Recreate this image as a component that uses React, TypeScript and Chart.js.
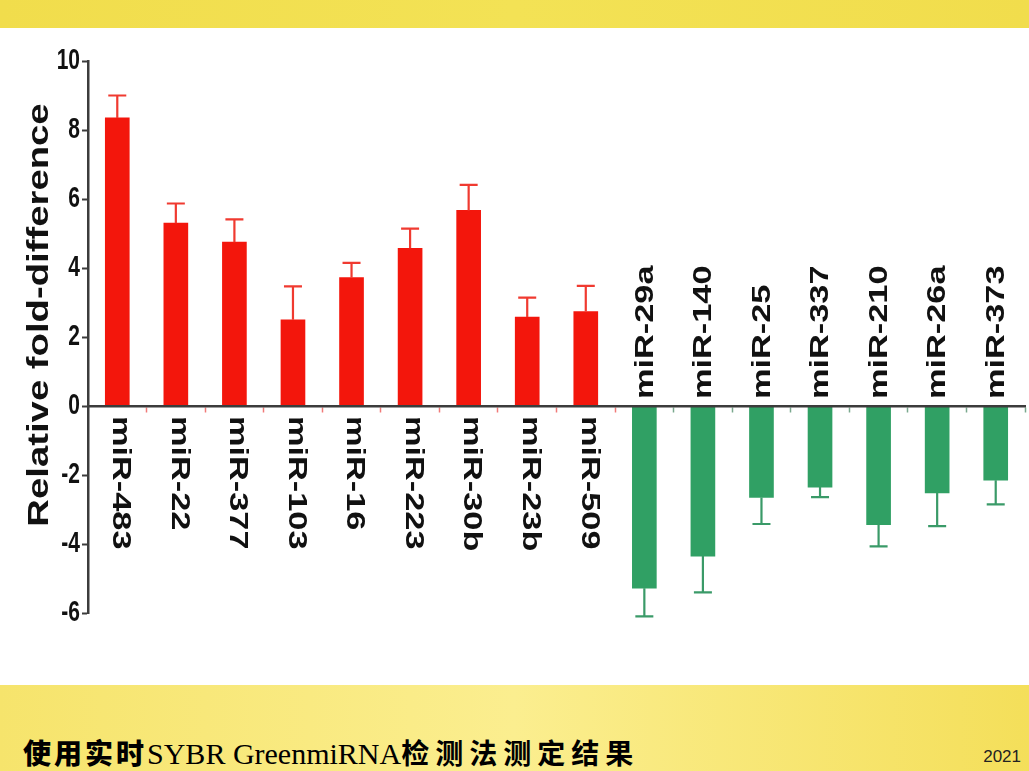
import { useEffect, useRef } from "react";
import { Chart, registerables } from "chart.js";

Chart.register(...registerables);

// miRNA names, left to right
const categories = [
  "miR-483", "miR-22", "miR-377", "miR-103", "miR-16", "miR-223", "miR-30b", "miR-23b", "miR-509",
  "miR-29a", "miR-140", "miR-25", "miR-337", "miR-210", "miR-26a", "miR-373",
];
// relative fold-difference
const values = [
  8.35, 5.3, 4.75, 2.5, 3.72, 4.57, 5.67, 2.58, 2.74,
  -5.28, -4.35, -2.65, -2.35, -3.44, -2.52, -2.15,
];
// error bar length (one sided, away from zero)
const errors = [
  0.65, 0.57, 0.66, 0.97, 0.43, 0.57, 0.74, 0.56, 0.74,
  0.82, 1.05, 0.77, 0.29, 0.63, 0.96, 0.7,
];
const yMin = -6;
const yMax = 10;
const yStep = 2;
const yTitle = "Relative fold-difference";

const RED = "#f3160c";
const GREEN = "#30a064";
const AXIS = "#3c3c3c";

const errorBars = {
  id: "errorBars",
  afterDatasetsDraw(chart: any) {
    const { ctx } = chart;
    const y = chart.scales.y;
    const meta = chart.getDatasetMeta(0);
    ctx.save();
    ctx.lineWidth = 2.2;
    meta.data.forEach((bar: any, i: number) => {
      const v = values[i];
      const end = v >= 0 ? v + errors[i] : v - errors[i];
      const y0 = y.getPixelForValue(v);
      const y1 = y.getPixelForValue(end);
      ctx.strokeStyle = v >= 0 ? "#f03a30" : "#3a9a68";
      ctx.beginPath();
      ctx.moveTo(bar.x, y0);
      ctx.lineTo(bar.x, y1);
      ctx.moveTo(bar.x - 9, y1);
      ctx.lineTo(bar.x + 9, y1);
      ctx.stroke();
    });
    ctx.restore();
  },
};

const textLabels = {
  id: "textLabels",
  afterDraw(chart: any) {
    const { ctx, chartArea } = chart;
    const x = chart.scales.x;
    const y = chart.scales.y;
    const zero = y.getPixelForValue(0);
    ctx.save();
    ctx.fillStyle = "#111";

    // y tick labels (condensed look)
    ctx.font = "bold 21px 'Liberation Sans', Arial, sans-serif";
    y.ticks.forEach((t: any) => {
      const py = y.getPixelForValue(t.value);
      ctx.save();
      ctx.translate(chartArea.left - 8, py);
      ctx.scale(1, 1.4);
      ctx.textAlign = "right";
      ctx.textBaseline = "middle";
      ctx.fillText(String(t.value), 0, 0);
      ctx.restore();
    });

    // y title
    ctx.save();
    ctx.font = "bold 29px 'Liberation Sans', Arial, sans-serif";
    ctx.translate(40, (chartArea.top + chartArea.bottom) / 2 - 22);
    ctx.rotate(-Math.PI / 2);
    ctx.scale(1.32, 1);
    ctx.textAlign = "center";
    ctx.textBaseline = "middle";
    ctx.fillText(yTitle, 0, 0);
    ctx.restore();

    // category labels: below the axis for up bars, above for down bars
    ctx.font = "bold 26px 'Liberation Sans', Arial, sans-serif";
    categories.forEach((c, i) => {
      const px = x.getPixelForValue(i);
      ctx.save();
      if (values[i] >= 0) {
        ctx.translate(px + 3, zero + 10);
        ctx.rotate(Math.PI / 2);
      } else {
        ctx.translate(px + 1, zero - 7);
        ctx.rotate(-Math.PI / 2);
      }
      ctx.scale(1.32, 1);
      ctx.textAlign = "left";
      ctx.textBaseline = "middle";
      ctx.fillText(c, 0, 0);
      ctx.restore();
    });
    ctx.restore();
  },
};

function BarChart() {
  const ref = useRef<HTMLCanvasElement | null>(null);

  useEffect(() => {
    if (!ref.current) return;
    const chart = new Chart(ref.current, {
      type: "bar",
      data: {
        labels: categories,
        datasets: [
          {
            data: values,
            backgroundColor: values.map((v) => (v >= 0 ? RED : GREEN)),
            borderWidth: 0,
            barThickness: 24,
          },
        ],
      },
      options: {
        animation: false,
        responsive: true,
        maintainAspectRatio: false,
        layout: { padding: { left: 0, right: 4, top: 33, bottom: 72 } },
        plugins: { legend: { display: false }, tooltip: { enabled: false } },
        scales: {
          x: {
            type: "category",
            position: { y: 0 } as any,
            ticks: { display: false },
            grid: {
              display: true,
              drawOnChartArea: false,
              offset: true,
              tickLength: 5,
              tickWidth: 1.5,
              tickColor: (c: any) =>
                c.index === 0 ? "rgba(0,0,0,0)" : c.index <= 9 ? "#f07a78" : "#7aa88e",
            },
            border: { display: true, color: AXIS, width: 2.5, z: 1 } as any,
          },
          y: {
            min: yMin,
            max: yMax,
            ticks: { stepSize: yStep, display: false },
            afterFit: (s: any) => {
              s.width = 88;
            },
            grid: {
              display: true,
              drawOnChartArea: false,
              tickLength: 6,
              tickWidth: 2,
              tickColor: AXIS,
            },
            border: { display: true, color: AXIS, width: 2.5 },
          },
        },
      },
      plugins: [errorBars, textLabels],
    });
    return () => chart.destroy();
  }, []);

  return (
    <div style={{ position: "absolute", left: 0, top: 28, width: 1029, height: 657 }}>
      <canvas ref={ref} aria-label="Relative fold-difference bar chart" />
    </div>
  );
}

export default function App() {
  return (
    <div
      style={{
        position: "fixed",
        left: 0,
        top: 0,
        width: 1029,
        height: 771,
        background: "#fff",
        overflow: "hidden",
      }}
    >
      <div
        style={{
          position: "absolute",
          left: 0,
          top: 0,
          width: 1029,
          height: 28,
          background: "linear-gradient(90deg, #f1dd4c, #f3e255 50%, #f1dd4c)",
        }}
      />
      <BarChart />
      <div
        style={{
          position: "absolute",
          left: 0,
          top: 685,
          width: 1029,
          height: 86,
          background: "linear-gradient(90deg, #f6e46c, #fbee8f 50%, #f4df5a)",
        }}
      />
      <div
        style={{
          position: "absolute",
          left: 23,
          top: 734,
          fontSize: 28,
          lineHeight: "36px",
          color: "#000",
          whiteSpace: "nowrap",
        }}
      >
        <span style={{ fontFamily: "'Noto Sans CJK SC'", fontWeight: 900, letterSpacing: 3 }}>
          使用实时
        </span>
        <span style={{ fontFamily: "'Liberation Serif', serif", fontSize: 30 }}>
          SYBR GreenmiRNA
        </span>
        <span style={{ fontFamily: "'Noto Sans CJK SC'", fontWeight: 700, letterSpacing: 6 }}>
          检测法测定结果
        </span>
      </div>
      <div
        style={{
          position: "absolute",
          right: 8,
          top: 747,
          fontSize: 17,
          fontFamily: "'Liberation Sans', Arial, sans-serif",
          color: "#222",
        }}
      >
        2021
      </div>
    </div>
  );
}
